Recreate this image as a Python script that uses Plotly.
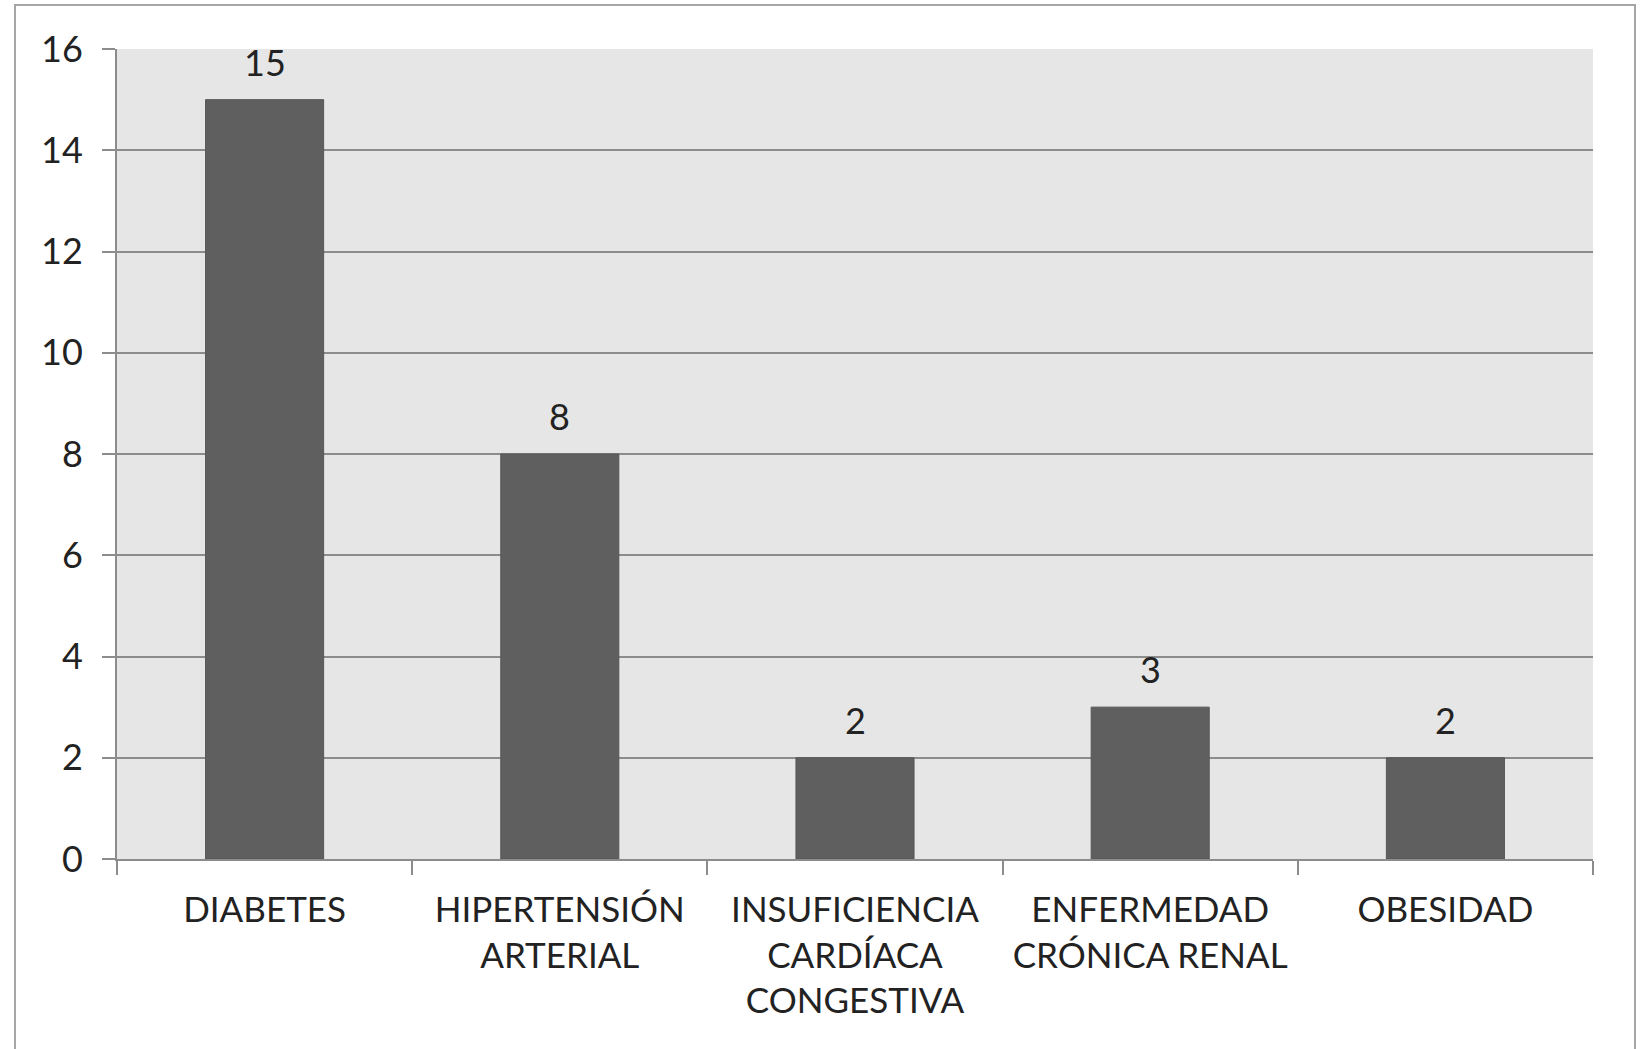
import plotly.graph_objects as go

categories = ["DIABETES", "HIPERTENSIÓN<br>ARTERIAL", "INSUFICIENCIA<br>CARDÍACA<br>CONGESTIVA",
              "ENFERMEDAD<br>CRÓNICA RENAL", "OBESIDAD"]
values = [15, 8, 2, 3, 2]
y_ticks = [0, 2, 4, 6, 8, 10, 12, 14, 16]

FONT = "Lato, Carlito, Calibri, sans-serif"
W, H = 1645, 1049
L, R, T, B = 117, 52, 49, 190
pw, ph = W - L - R, H - T - B

fig = go.Figure()
fig.add_trace(go.Bar(
    x=categories, y=values,
    marker=dict(color="#5f5f5f", line=dict(color="#575757", width=1)),
    width=0.4, showlegend=False, hoverinfo="skip",
))

for c, v in zip(categories, values):
    fig.add_annotation(x=c, y=v, text=str(v), showarrow=False, yshift=38,
                       font=dict(family=FONT, size=36, color="#222222"))

# outer chart border (page coords: x 15..1635, y 5..beyond bottom)
fig.add_shape(type="rect", xref="paper", yref="paper",
              x0=(15 - L) / pw, x1=(1635 - L) / pw,
              y0=-(H + 20 - (T + ph)) / ph, y1=(T + ph - 5) / ph,
              line=dict(color="#a6a6a6", width=2), fillcolor="rgba(0,0,0,0)", layer="below")

fig.update_layout(
    width=W, height=H,
    margin=dict(l=L, r=R, t=T, b=B),
    paper_bgcolor="white",
    plot_bgcolor="#e6e6e6",
    font=dict(family=FONT, color="#222222"),
    bargap=0.6,
)
fig.update_xaxes(
    range=[-0.5, 4.5], automargin=False, tickangle=0,
    showline=True, linecolor="#8c8c8c", linewidth=2,
    ticks="outside", tickson="boundaries", ticklen=14, tickwidth=2, tickcolor="#8c8c8c",
    tickfont=dict(size=35, family=FONT, color="#222222"),
    showgrid=False, ticklabelstandoff=19,
)
fig.update_yaxes(
    range=[0, 16], tickvals=y_ticks, ticktext=[str(t) for t in y_ticks],
    automargin=False,
    showgrid=True, gridcolor="#8c8c8c", gridwidth=2,
    showline=True, linecolor="#8c8c8c", linewidth=2,
    ticks="outside", ticklen=13, tickcolor="#8c8c8c", tickwidth=2,
    tickfont=dict(size=36, family=FONT, color="#222222"),
    ticklabelstandoff=12, zeroline=False,
)

fig.write_html("out.html", config={"displayModeBar": False},
               post_script="document.body.style.margin='0';")
